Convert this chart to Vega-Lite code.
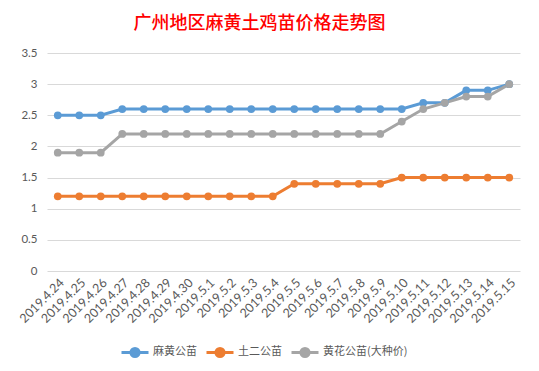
{
  "$schema": "https://vega.github.io/schema/vega-lite/v6.json",
  "width": 473,
  "height": 218,
  "autosize": {"type": "none"},
  "padding": {"left": 47, "top": 53, "right": 19, "bottom": 100},
  "background": "white",
  "config": {
    "view": {"stroke": null},
    "font": "Lato",
    "axis": {"labelColor": "#595959", "labelFont": "Lato", "labelFontSize": 11.5}
  },
  "title": {
    "text": "广州地区麻黄土鸡苗价格走势图",
    "color": "#FF0000",
    "font": "Noto Sans CJK SC",
    "fontSize": 18,
    "fontWeight": 500,
    "anchor": "middle",
    "dx": -24,
    "offset": 14
  },
  "data": {
    "values": [
      {"date": "2019.4.24", "series": "麻黄公苗", "price": 2.5},
      {"date": "2019.4.25", "series": "麻黄公苗", "price": 2.5},
      {"date": "2019.4.26", "series": "麻黄公苗", "price": 2.5},
      {"date": "2019.4.27", "series": "麻黄公苗", "price": 2.6},
      {"date": "2019.4.28", "series": "麻黄公苗", "price": 2.6},
      {"date": "2019.4.29", "series": "麻黄公苗", "price": 2.6},
      {"date": "2019.4.30", "series": "麻黄公苗", "price": 2.6},
      {"date": "2019.5.1", "series": "麻黄公苗", "price": 2.6},
      {"date": "2019.5.2", "series": "麻黄公苗", "price": 2.6},
      {"date": "2019.5.3", "series": "麻黄公苗", "price": 2.6},
      {"date": "2019.5.4", "series": "麻黄公苗", "price": 2.6},
      {"date": "2019.5.5", "series": "麻黄公苗", "price": 2.6},
      {"date": "2019.5.6", "series": "麻黄公苗", "price": 2.6},
      {"date": "2019.5.7", "series": "麻黄公苗", "price": 2.6},
      {"date": "2019.5.8", "series": "麻黄公苗", "price": 2.6},
      {"date": "2019.5.9", "series": "麻黄公苗", "price": 2.6},
      {"date": "2019.5.10", "series": "麻黄公苗", "price": 2.6},
      {"date": "2019.5.11", "series": "麻黄公苗", "price": 2.7},
      {"date": "2019.5.12", "series": "麻黄公苗", "price": 2.7},
      {"date": "2019.5.13", "series": "麻黄公苗", "price": 2.9},
      {"date": "2019.5.14", "series": "麻黄公苗", "price": 2.9},
      {"date": "2019.5.15", "series": "麻黄公苗", "price": 3.0},
      {"date": "2019.4.24", "series": "土二公苗", "price": 1.2},
      {"date": "2019.4.25", "series": "土二公苗", "price": 1.2},
      {"date": "2019.4.26", "series": "土二公苗", "price": 1.2},
      {"date": "2019.4.27", "series": "土二公苗", "price": 1.2},
      {"date": "2019.4.28", "series": "土二公苗", "price": 1.2},
      {"date": "2019.4.29", "series": "土二公苗", "price": 1.2},
      {"date": "2019.4.30", "series": "土二公苗", "price": 1.2},
      {"date": "2019.5.1", "series": "土二公苗", "price": 1.2},
      {"date": "2019.5.2", "series": "土二公苗", "price": 1.2},
      {"date": "2019.5.3", "series": "土二公苗", "price": 1.2},
      {"date": "2019.5.4", "series": "土二公苗", "price": 1.2},
      {"date": "2019.5.5", "series": "土二公苗", "price": 1.4},
      {"date": "2019.5.6", "series": "土二公苗", "price": 1.4},
      {"date": "2019.5.7", "series": "土二公苗", "price": 1.4},
      {"date": "2019.5.8", "series": "土二公苗", "price": 1.4},
      {"date": "2019.5.9", "series": "土二公苗", "price": 1.4},
      {"date": "2019.5.10", "series": "土二公苗", "price": 1.5},
      {"date": "2019.5.11", "series": "土二公苗", "price": 1.5},
      {"date": "2019.5.12", "series": "土二公苗", "price": 1.5},
      {"date": "2019.5.13", "series": "土二公苗", "price": 1.5},
      {"date": "2019.5.14", "series": "土二公苗", "price": 1.5},
      {"date": "2019.5.15", "series": "土二公苗", "price": 1.5},
      {"date": "2019.4.24", "series": "黄花公苗(大种价)", "price": 1.9},
      {"date": "2019.4.25", "series": "黄花公苗(大种价)", "price": 1.9},
      {"date": "2019.4.26", "series": "黄花公苗(大种价)", "price": 1.9},
      {"date": "2019.4.27", "series": "黄花公苗(大种价)", "price": 2.2},
      {"date": "2019.4.28", "series": "黄花公苗(大种价)", "price": 2.2},
      {"date": "2019.4.29", "series": "黄花公苗(大种价)", "price": 2.2},
      {"date": "2019.4.30", "series": "黄花公苗(大种价)", "price": 2.2},
      {"date": "2019.5.1", "series": "黄花公苗(大种价)", "price": 2.2},
      {"date": "2019.5.2", "series": "黄花公苗(大种价)", "price": 2.2},
      {"date": "2019.5.3", "series": "黄花公苗(大种价)", "price": 2.2},
      {"date": "2019.5.4", "series": "黄花公苗(大种价)", "price": 2.2},
      {"date": "2019.5.5", "series": "黄花公苗(大种价)", "price": 2.2},
      {"date": "2019.5.6", "series": "黄花公苗(大种价)", "price": 2.2},
      {"date": "2019.5.7", "series": "黄花公苗(大种价)", "price": 2.2},
      {"date": "2019.5.8", "series": "黄花公苗(大种价)", "price": 2.2},
      {"date": "2019.5.9", "series": "黄花公苗(大种价)", "price": 2.2},
      {"date": "2019.5.10", "series": "黄花公苗(大种价)", "price": 2.4},
      {"date": "2019.5.11", "series": "黄花公苗(大种价)", "price": 2.6},
      {"date": "2019.5.12", "series": "黄花公苗(大种价)", "price": 2.7},
      {"date": "2019.5.13", "series": "黄花公苗(大种价)", "price": 2.8},
      {"date": "2019.5.14", "series": "黄花公苗(大种价)", "price": 2.8},
      {"date": "2019.5.15", "series": "黄花公苗(大种价)", "price": 3.0}
    ]
  },
  "mark": {
    "type": "line",
    "strokeWidth": 3,
    "point": {"filled": true, "size": 60, "opacity": 1}
  },
  "encoding": {
    "x": {
      "field": "date",
      "type": "nominal",
      "sort": null,
      "title": null,
      "scale": {"type": "band", "paddingInner": 0, "paddingOuter": 0},
      "axis": {
        "labelAngle": -45,
        "labelFontSize": 12.5,
        "ticks": false,
        "domain": false,
        "grid": false,
        "labelPadding": 5
      }
    },
    "y": {
      "field": "price",
      "type": "quantitative",
      "title": null,
      "scale": {"domain": [0, 3.5], "nice": false},
      "axis": {
        "values": [0, 0.5, 1, 1.5, 2, 2.5, 3, 3.5],
        "format": "~g",
        "domain": false,
        "ticks": false,
        "gridColor": "#D9D9D9",
        "gridWidth": 1,
        "labelPadding": 10
      }
    },
    "color": {
      "field": "series",
      "type": "nominal",
      "sort": null,
      "scale": {
        "domain": ["麻黄公苗", "土二公苗", "黄花公苗(大种价)"],
        "range": ["#5B9BD5", "#ED7D31", "#A5A5A5"]
      },
      "legend": {
        "title": null,
        "orient": "none",
        "direction": "horizontal",
        "legendX": 73,
        "legendY": 284,
        "symbolType": "M-1,0H1M0.3,0A0.3,0.3 0 1,1 -0.3,0A0.3,0.3 0 1,1 0.3,0Z",
        "symbolSize": 729,
        "symbolStrokeWidth": 3,
        "labelFont": "Noto Sans CJK SC",
        "labelFontSize": 11,
        "labelColor": "#595959",
        "columnPadding": 3,
        "labelOffset": 3
      }
    }
  }
}
